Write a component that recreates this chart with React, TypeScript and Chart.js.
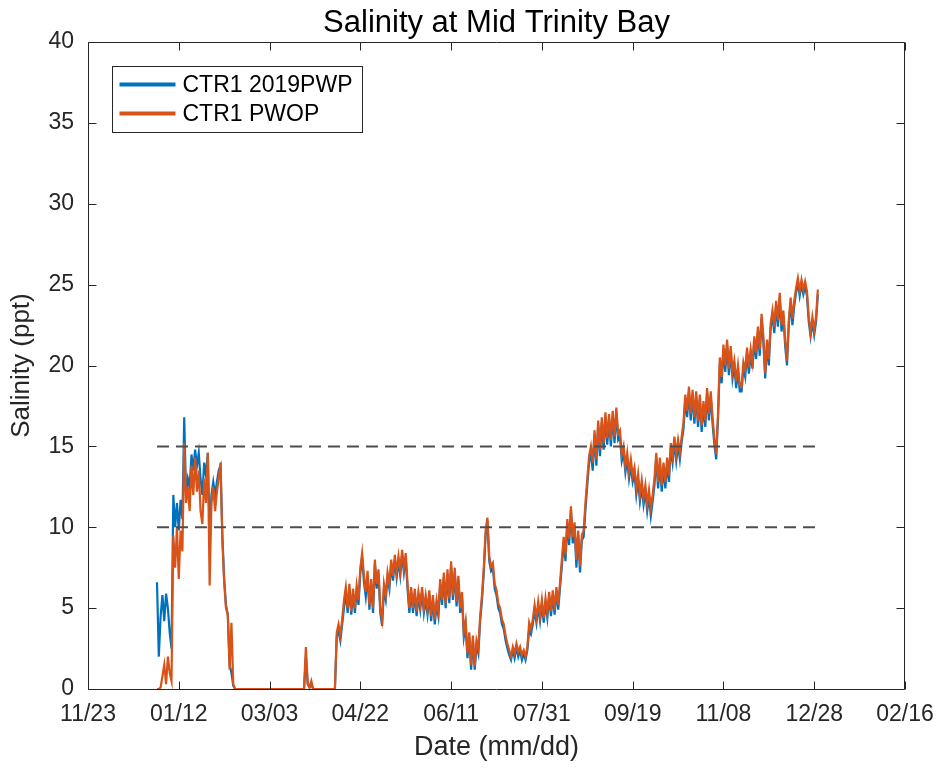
import React, { useEffect, useRef } from "react";
import { Chart, registerables } from "chart.js";

Chart.register(...registerables);

// Day offsets are counted from 11/23 (2018); axis spans 0..450 days
const baseYear = 2018;
const baseMonth = 10; // November (0-based)
const baseDayOfMonth = 23;
const xMin = 0;
const xMax = 450;
const xStep = 50;
const yMin = 0;
const yMax = 40;
const yStep = 5;

const seriesLabels = ["CTR1 2019PWP", "CTR1 PWOP"];
const seriesColors = ["#0072BD", "#D95319"];
const startDay = 38; // first day of both series (daily values)

// CTR1 2019PWP (blue), daily values from day 38
const pwpSalinity = [
  6.6, 2.0, 4.5, 5.8, 4.2, 5.9, 5.0, 3.5, 2.5,
  12.0, 10.0, 11.5, 9.8, 11.7, 10.5, 16.8, 12.0, 13.0, 12.5,
  14.5, 13.5, 14.8, 13.8, 14.6, 13.0, 12.0, 14.0, 13.2, 14.6,
  9.5, 12.0, 12.8, 12.0, 12.8, 13.5, 13.8, 9.5, 6.8, 5.2,
  4.6, 1.5, 1.0, 0.2,
  0, 0, 0, 0, 0, 0, 0, 0, 0, 0,
  0, 0, 0, 0, 0, 0, 0, 0, 0, 0,
  0, 0, 0, 0, 0, 0, 0, 0, 0, 0,
  0, 0, 0, 0, 0, 0, 0, 0, 0,
  2.0, 0.3, 0.1, 0.3,
  0, 0, 0, 0, 0, 0, 0, 0, 0, 0, 0, 0, 0,
  3.2, 3.6, 3.0, 4.0, 5.0, 6.0, 4.7, 6.2, 4.6, 5.9,
  4.7, 6.1, 5.2, 7.2, 8.1, 6.6, 5.7, 7.0, 4.9, 6.5,
  4.7, 7.7, 6.2, 7.1, 4.7, 3.9, 6.1, 5.5, 6.9, 6.2,
  7.7, 6.7, 8.0, 6.9, 7.9, 7.0, 8.3, 7.2, 8.1, 6.2,
  4.7, 6.0, 4.7, 5.9, 4.5, 5.7, 4.9, 6.0, 4.7, 5.5,
  4.6, 5.8, 4.2, 5.5, 4.0, 5.2, 4.5, 6.5, 5.2, 6.9,
  5.0, 7.1, 5.3, 7.6, 5.5, 7.2, 5.1, 6.7, 4.7, 5.7,
  3.2, 3.9, 1.9, 3.2, 1.2, 3.0, 1.2, 2.7, 2.2, 4.2,
  5.5, 7.2, 9.5, 10.4,
  7.9, 7.3, 7.5, 6.2, 5.8, 5.0, 4.7, 4.0, 3.7, 3.0,
  2.5, 2.1, 1.8, 2.4, 1.9, 2.6, 2.0, 2.4, 1.8, 2.2,
  1.8, 2.4, 3.7, 3.4, 4.0, 4.9, 4.1, 5.1, 4.2, 5.2,
  4.1, 5.3, 4.4, 5.7, 4.5, 5.8, 4.6, 6.0, 4.9, 6.3,
  7.6, 9.1, 7.9, 10.2, 8.9, 11.0, 9.0, 10.0, 7.5, 9.5,
  7.2, 9.2, 9.4, 11.1, 12.6, 14.0, 14.6, 13.5, 15.7, 13.8,
  16.3, 14.4, 16.5, 14.8, 16.8, 15.1, 16.7, 15.0, 16.9, 15.2,
  17.1, 15.4, 15.6, 14.1, 14.6, 13.4, 14.2, 13.0, 13.8, 12.8,
  13.3, 12.0, 12.9, 11.6, 12.5, 11.4, 12.2, 11.0, 11.9, 10.7,
  11.6, 12.6, 14.3, 12.4, 13.9, 12.2, 13.6, 12.4, 13.9, 12.8,
  14.9, 14.0, 15.3, 14.1, 15.1, 14.2, 15.3, 16.1, 17.9, 16.8,
  18.4, 16.6, 18.2, 16.4, 18.1, 16.2, 17.9, 15.9, 17.5, 16.2,
  18.3, 16.6, 18.1, 16.4, 15.1, 14.2, 16.7, 20.1, 18.9, 21.0,
  19.6, 21.3, 19.4, 20.9, 19.2, 20.0, 18.6, 19.7, 18.4, 18.4,
  19.9, 19.3, 20.8, 19.5, 20.7, 19.8, 21.5, 20.4, 22.1, 20.6,
  22.9, 21.4, 19.2, 21.3, 20.0, 22.3, 23.1, 22.0, 23.7, 22.4,
  24.2, 22.1, 23.1, 21.2, 20.0, 22.5, 23.9, 22.5, 23.7, 24.5,
  25.1, 24.3, 25.0, 24.4, 24.9, 24.3, 22.7, 21.8, 22.7, 21.9,
  22.7, 24.4,
];

// CTR1 PWOP (orange), daily values from day 38
const pwopSalinity = [
  0, 0, 0.1, 0.8, 1.5, 0.3, 2.0, 1.0, 0.5,
  9.5, 7.5, 10.0, 6.8, 9.8, 8.5, 15.2, 11.5, 12.5, 11.0,
  13.8, 12.0, 14.3, 12.2, 13.5, 11.0, 10.2, 13.0, 11.5, 14.6,
  6.4, 11.5, 12.5, 11.0, 12.2, 13.0, 14.0, 9.2, 6.6, 5.0,
  4.6, 1.2, 4.1, 0.3,
  0, 0, 0, 0, 0, 0, 0, 0, 0, 0,
  0, 0, 0, 0, 0, 0, 0, 0, 0, 0,
  0, 0, 0, 0, 0, 0, 0, 0, 0, 0,
  0, 0, 0, 0, 0, 0, 0, 0, 0,
  2.6, 0.4, 0.1, 0.5,
  0, 0, 0, 0, 0, 0, 0, 0, 0, 0, 0, 0, 0,
  3.5, 4.0, 3.3, 4.3, 5.5, 6.3, 5.0, 6.5, 4.8, 6.2,
  5.0, 6.4, 5.5, 7.5, 8.4, 7.0, 6.0, 7.3, 5.2, 6.8,
  5.0, 8.0, 6.5, 7.4, 5.0, 4.3, 6.5, 5.8, 7.2, 6.5,
  8.0, 7.0, 8.3, 7.2, 8.2, 7.3, 8.6, 7.5, 8.4, 6.5,
  5.0, 6.3, 5.0, 6.2, 4.8, 6.0, 5.2, 6.3, 5.0, 5.8,
  4.9, 6.1, 4.5, 5.8, 4.3, 5.5, 4.8, 6.8, 5.5, 7.2,
  5.3, 7.4, 5.6, 7.9, 5.8, 7.5, 5.4, 7.0, 5.0, 6.0,
  3.5, 4.2, 2.2, 3.5, 1.5, 3.3, 1.4, 3.0, 2.5, 4.5,
  5.8, 7.5, 9.8, 10.6,
  8.2, 7.6, 7.8, 6.5, 6.1, 5.3, 5.0, 4.3, 4.0, 3.3,
  2.8, 2.4, 2.0, 2.6, 2.2, 2.8, 2.3, 2.6, 2.1, 2.4,
  2.0, 2.6, 4.1, 3.7, 4.3, 5.2, 4.4, 5.4, 4.5, 5.5,
  4.4, 5.6, 4.7, 6.0, 4.8, 6.1, 4.9, 6.3, 5.2, 6.6,
  8.0, 9.4, 8.3, 10.5, 9.3, 11.3, 9.4, 10.3, 8.0, 9.8,
  7.6, 9.5, 9.8, 11.5, 13.0, 14.4, 15.0, 14.0, 16.0, 14.2,
  16.6, 14.8, 16.8, 15.2, 17.1, 15.5, 17.0, 15.4, 17.2, 15.6,
  17.4, 15.8, 16.0, 14.5, 15.0, 13.8, 14.6, 13.4, 14.2, 13.2,
  13.7, 12.4, 13.3, 12.0, 12.9, 11.8, 12.6, 11.4, 12.3, 11.2,
  12.0, 13.0, 14.6, 12.8, 14.3, 12.6, 14.0, 12.8, 14.3, 13.2,
  15.2, 14.4, 15.6, 14.5, 15.4, 14.6, 15.6, 16.5, 18.2, 17.2,
  18.7, 17.0, 18.5, 16.8, 18.4, 16.6, 18.2, 16.3, 17.8, 16.6,
  18.6, 17.0, 18.4, 16.8, 15.5, 14.5, 17.0, 20.5, 19.3, 21.3,
  20.0, 21.6, 19.8, 21.2, 19.6, 20.3, 19.0, 20.0, 18.8, 18.7,
  20.2, 19.7, 21.1, 19.9, 21.0, 20.2, 21.8, 20.8, 22.4, 21.0,
  23.2, 21.8, 19.5, 21.6, 20.4, 22.6, 23.4, 22.4, 24.0, 22.8,
  24.5, 22.5, 23.4, 21.6, 20.3, 22.8, 24.2, 22.9, 24.0, 24.8,
  25.4, 24.6, 25.3, 24.7, 25.2, 24.6, 23.0, 22.0, 23.0, 22.2,
  23.0, 24.7,
];

// Dashed threshold lines
const thresholdValues = [10, 15];
const thresholdStartDay = 38;
const thresholdEndDay = 402;

const FONT = "'Liberation Sans', Arial, Helvetica, sans-serif";

function formatDay(v: number): string {
  const d = new Date(baseYear, baseMonth, baseDayOfMonth + v);
  const mm = String(d.getMonth() + 1).padStart(2, "0");
  const dd = String(d.getDate()).padStart(2, "0");
  return `${mm}/${dd}`;
}

const axesBoxPlugin = {
  id: "axesBox",
  afterDraw(chart: any) {
    const { ctx, chartArea, scales } = chart;
    const { left, right, top, bottom } = chartArea;
    const x = scales.x;
    const y = scales.y;
    ctx.save();
    ctx.strokeStyle = "#262626";
    ctx.lineWidth = 1;
    const L = Math.round(left) + 0.5;
    const R = Math.round(right) - 0.5;
    const T = Math.round(top) + 0.5;
    const B = Math.round(bottom) + 0.5;
    ctx.beginPath();
    ctx.rect(L, T, R - L, B - T);
    ctx.stroke();
    const tl = 8;
    ctx.beginPath();
    x.ticks.forEach((t: any) => {
      const px = Math.round(x.getPixelForValue(t.value)) + 0.5;
      ctx.moveTo(px, B);
      ctx.lineTo(px, B - tl);
      ctx.moveTo(px, T);
      ctx.lineTo(px, T + tl);
    });
    y.ticks.forEach((t: any) => {
      const py = Math.round(y.getPixelForValue(t.value)) + 0.5;
      ctx.moveTo(L, py);
      ctx.lineTo(L + tl, py);
      ctx.moveTo(R, py);
      ctx.lineTo(R - tl, py);
    });
    ctx.stroke();

    // Legend box (inside axes, top-left)
    const bx = Math.round(left) + 24.5;
    const by = Math.round(top) + 24.5;
    const bw = 250;
    const bh = 66;
    ctx.fillStyle = "#ffffff";
    ctx.fillRect(bx, by, bw, bh);
    ctx.strokeStyle = "#262626";
    ctx.lineWidth = 1;
    ctx.strokeRect(bx, by, bw, bh);
    const items = chart.data.datasets.filter((d: any) => d.showInLegend);
    items.sort((a: any, b: any) => a.legendIndex - b.legendIndex);
    items.forEach((d: any, i: number) => {
      const ly = by + 18 + i * 29;
      ctx.strokeStyle = d.borderColor;
      ctx.lineWidth = 4;
      ctx.beginPath();
      ctx.moveTo(bx + 7, ly);
      ctx.lineTo(bx + 63, ly);
      ctx.stroke();
      ctx.fillStyle = "#000000";
      ctx.font = `23px ${FONT}`;
      ctx.textBaseline = "middle";
      ctx.textAlign = "left";
      ctx.fillText(d.label, bx + 70, ly + 1);
    });
    ctx.restore();
  },
};

export default function App() {
  const canvasRef = useRef<HTMLCanvasElement | null>(null);

  useEffect(() => {
    if (!canvasRef.current) return;
    const toPoints = (arr: number[]) => arr.map((v, i) => ({ x: startDay + i, y: v }));
    const seriesData = [pwpSalinity, pwopSalinity];
    const datasets: any[] = seriesData.map((arr, i) => ({
      label: seriesLabels[i],
      data: toPoints(arr),
      borderColor: seriesColors[i],
      backgroundColor: seriesColors[i],
      borderWidth: 2.2,
      pointRadius: 0,
      tension: 0,
      clip: 4,
      order: 2 - i,
      showInLegend: true,
      legendIndex: i,
    }));
    thresholdValues.forEach((t) => {
      datasets.push({
        label: "",
        data: [
          { x: thresholdStartDay, y: t },
          { x: thresholdEndDay, y: t },
        ],
        borderColor: "#4d4d4d",
        borderWidth: 2,
        borderDash: [12, 7],
        pointRadius: 0,
        order: 0,
        showInLegend: false,
      });
    });

    const chart = new Chart(canvasRef.current, {
      type: "line",
      data: { datasets },
      options: {
        responsive: false,
        animation: false,
        devicePixelRatio: 1,
        layout: { padding: { left: 0, right: 35, top: 0, bottom: 0 } },
        plugins: {
          legend: { display: false },
          tooltip: { enabled: false },
          title: {
            display: true,
            fullSize: false,
            text: "Salinity at Mid Trinity Bay",
            color: "#000000",
            font: { family: FONT, size: 31, weight: "normal", lineHeight: 1.1 },
            padding: { top: 6, bottom: 1.9 },
          },
        },
        scales: {
          x: {
            type: "linear",
            min: xMin,
            max: xMax,
            afterFit: (s: any) => {
              s.height = 79;
              s.paddingLeft = 0;
              s.paddingRight = 0;
            },
            grid: { display: false, drawTicks: false, tickLength: 0 },
            border: { display: false },
            ticks: {
              stepSize: xStep,
              autoSkip: false,
              maxRotation: 0,
              color: "#262626",
              padding: 12,
              font: { family: FONT, size: 23 },
              callback: (v: any) => formatDay(Number(v)),
            },
            title: {
              display: true,
              text: "Date (mm/dd)",
              color: "#262626",
              font: { family: FONT, size: 27 },
              padding: { top: 0, bottom: 4 },
            },
          },
          y: {
            type: "linear",
            min: yMin,
            max: yMax,
            afterFit: (s: any) => {
              s.width = 88;
              s.paddingTop = 0;
              s.paddingBottom = 0;
            },
            grid: { display: false, drawTicks: false, tickLength: 0 },
            border: { display: false },
            ticks: {
              stepSize: yStep,
              color: "#262626",
              padding: 14,
              font: { family: FONT, size: 23 },
            },
            title: {
              display: true,
              text: "Salinity (ppt)",
              color: "#262626",
              font: { family: FONT, size: 26 },
              padding: { top: 6, bottom: 0 },
            },
          },
        },
      } as any,
      plugins: [axesBoxPlugin],
    });
    return () => chart.destroy();
  }, []);

  return (
    <div style={{ position: "fixed", left: 0, top: 0, width: 940, height: 768, background: "#ffffff" }}>
      <canvas ref={canvasRef} width={940} height={768} style={{ width: 940, height: 768 }} />
    </div>
  );
}
